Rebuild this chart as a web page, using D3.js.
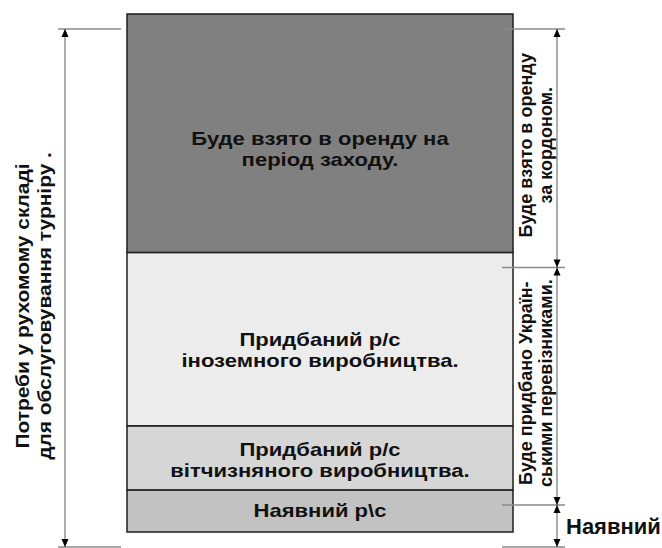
<!DOCTYPE html>
<html>
<head>
<meta charset="utf-8">
<script src="https://cdn.jsdelivr.net/npm/d3@7"></script>
<style>
   body { margin: 0; background: #fff; }
   svg text { font-family: "Liberation Sans", Arial, sans-serif; font-weight: bold; fill: #111; }
</style>
</head>
<body>
<svg class="fleet" width="662" height="548"></svg>
<script>
// DATA (bottom to top)
var segmentNames = ['available', 'domestic', 'foreign', 'leased'];
var segmentValues = [42, 64, 173, 238];
var segmentLabels = [
   ['Наявний р\\с'],
   ['Придбаний р/с', 'вітчизняного виробництва.'],
   ['Придбаний р/с', 'іноземного виробництва.'],
   ['Буде взято в оренду на', 'період заходу.']
];

// right-hand dimensions, as ranges of segments [from, to)
var rightDimFrom = [0, 1, 3];
var rightDimTo = [1, 3, 4];
var rightDimLabels = [
   ['Наявний'],
   ['Буде придбано Україн-', 'ськими перевізниками.'],
   ['Буде взято в оренду', 'за кордоном.']
];
var leftDimLabel = ['Потреби у рухомому складі', 'для обслуговування турніру .'];

// LAYOUT
var svg = d3.select('svg.fleet');
var colors = {available: '#c2c2c2', domestic: '#d6d6d6', foreign: '#ececec', leased: '#808080'};
var nudge = {available: 0, domestic: 2, foreign: 11, leased: 16};
var lineHeight = 21.5;
var colLeft = 127, colRight = 513;
var dimShift = 15; // the dimension lines sit a little lower than the column

var stacked = [], acc = 0;
segmentValues.forEach(function (v, i) {
   stacked.push({name: segmentNames[i], y0: acc, y1: acc + v, lines: segmentLabels[i]});
   acc += v;
});
var total = acc;

var y = d3.scaleLinear().domain([0, total]).range([532, 14]);
var yDim = function (v) { return y(v) + dimShift; };
var cum = [0].concat(stacked.map(function (d) { return d.y1; }));

// column
var col = svg.append('g');
col.selectAll('rect')
   .data(stacked)
   .enter().append('rect')
   .attr('x', colLeft)
   .attr('width', colRight - colLeft)
   .attr('y', function (d) { return y(d.y1); })
   .attr('height', function (d) { return y(d.y0) - y(d.y1); })
   .attr('fill', function (d) { return colors[d.name]; })
   .attr('stroke', '#1e1e1e')
   .attr('stroke-width', 1.5);

// labels inside the column are drawn a bit wide, like the original
col.selectAll('text.seg')
   .data(stacked)
   .enter().append('text')
   .attr('class', 'seg')
   .attr('text-anchor', 'middle')
   .attr('transform', 'translate(' + (colLeft + colRight) / 2 + ',0) scale(1.16,1)')
   .style('font-size', '19px')
   .each(function (d) {
      var mid = (y(d.y0) + y(d.y1)) / 2 + nudge[d.name];
      var first = mid + 6.5 - (d.lines.length - 1) * lineHeight / 2;
      d3.select(this).selectAll('tspan')
         .data(d.lines)
         .enter().append('tspan')
         .attr('x', 0)
         .attr('y', function (l, i) { return first + i * lineHeight; })
         .text(function (l) { return l; });
   });

// dimension helpers
function extLine(x1, x2, yy) {
   svg.append('line')
      .attr('x1', x1).attr('x2', x2)
      .attr('y1', yy).attr('y2', yy)
      .attr('stroke', '#8a8a8a')
      .attr('stroke-width', 1.5);
}

function dimLine(x, ya, yb) {
   svg.append('line')
      .attr('x1', x).attr('x2', x)
      .attr('y1', ya).attr('y2', yb)
      .attr('stroke', '#5a5a5a')
      .attr('stroke-width', 1);
   // arrow heads
   svg.append('path')
      .attr('d', 'M' + x + ',' + ya + 'l-3.5,8h7z')
      .attr('fill', '#000');
   svg.append('path')
      .attr('d', 'M' + x + ',' + yb + 'l-3.5,-8h7z')
      .attr('fill', '#000');
}

function rotatedLabel(x, yc, lines, gap, size, stretch) {
   var t = svg.append('text')
      .attr('transform', 'translate(' + x + ',' + yc + ') rotate(-90) scale(' + stretch + ',1)')
      .attr('text-anchor', 'middle')
      .style('font-size', size + 'px');
   t.selectAll('tspan')
      .data(lines)
      .enter().append('tspan')
      .attr('x', 0)
      .attr('y', function (l, i) { return i * gap; })
      .text(function (l) { return l; });
}

// left dimension: whole need
extLine(58, 121, yDim(total));
extLine(58, 121, yDim(0));
dimLine(65, yDim(total), yDim(0));
rotatedLabel(28.5, 306, leftDimLabel, 22.5, 19, 1.1);

// right dimensions
var rx = 557;
[0, 1, 3, 4].forEach(function (i) { extLine(502, 565, yDim(cum[i])); });

rightDimFrom.forEach(function (f, i) {
   var yb = yDim(cum[f]), ya = yDim(cum[rightDimTo[i]]);
   dimLine(rx, ya, yb);
   var lines = rightDimLabels[i];
   if (lines.length === 1) {
      svg.append('text')
         .attr('x', 566)
         .attr('y', (ya + yb) / 2 + 8)
         .style('font-size', '22px')
         .text(lines[0]);
   } else {
      rotatedLabel(532, (ya + yb) / 2 - 3, lines, 20, 18, 1);
   }
});
</script>
</body>
</html>
